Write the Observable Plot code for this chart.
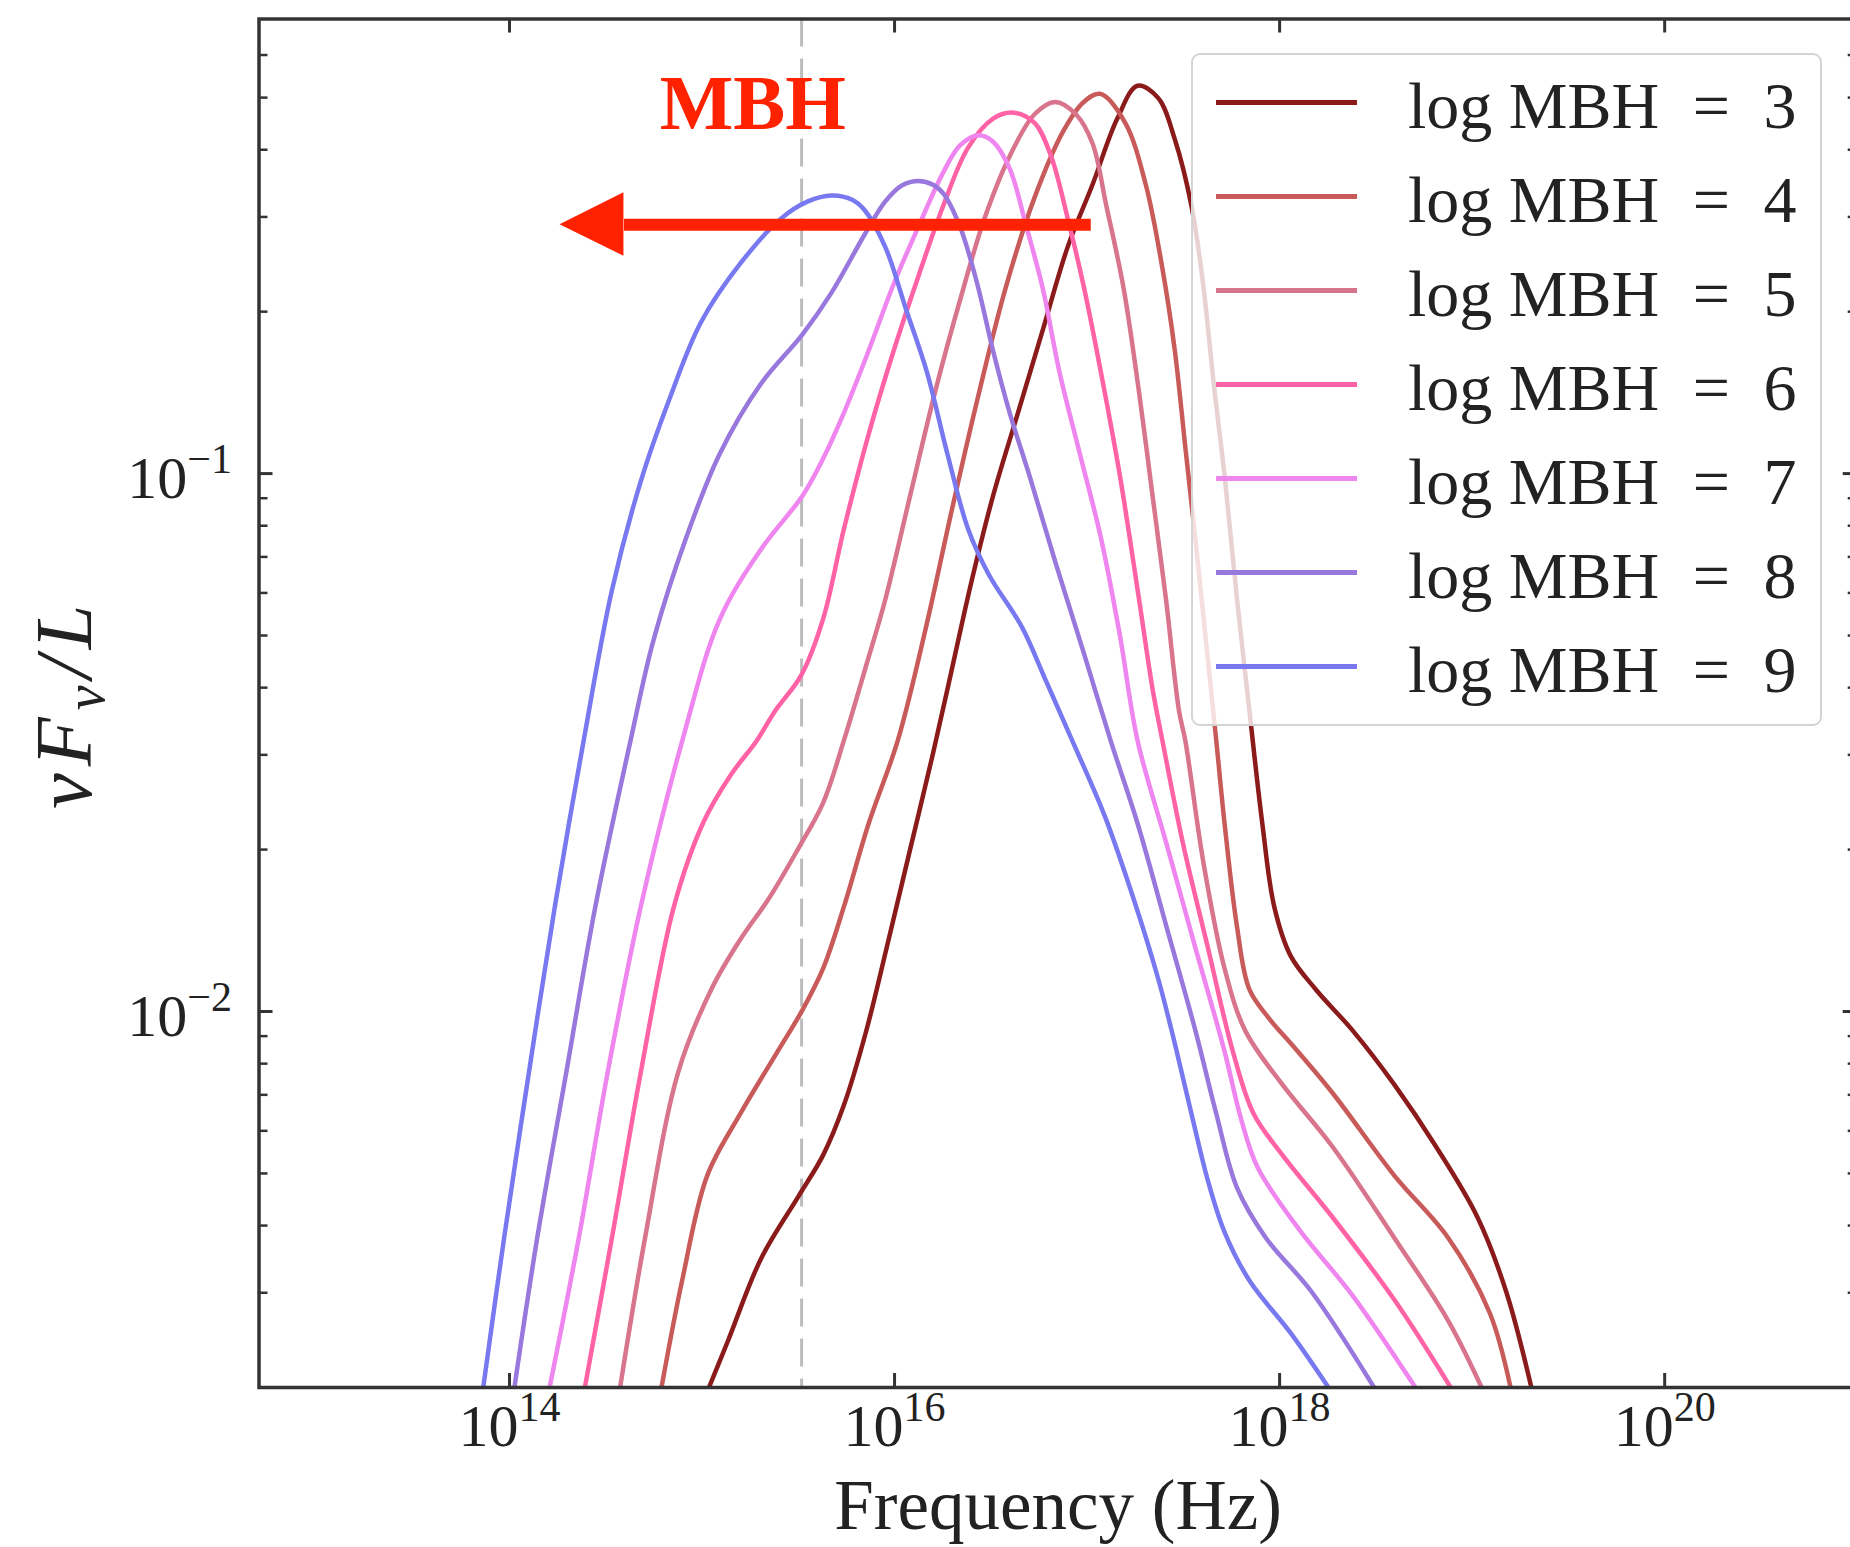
<!DOCTYPE html>
<html>
<head>
<meta charset="utf-8">
<script src="https://cdn.jsdelivr.net/npm/d3@7"></script>
<script src="https://cdn.jsdelivr.net/npm/@observablehq/plot@0.6"></script>
<style>
  html, body { margin: 0; padding: 0; background: #fff; }
  #wrap { position: relative; width: 1850px; height: 1547px; overflow: hidden; background: #fff; }
  #wrap svg { display: block; }
</style>
</head>
<body>
<div id="wrap"></div>
<script>
// ---------------- data (log10 frequency [Hz], log10 nuF_nu/L) ----------------
const seriesNames = ["log MBH = 3", "log MBH = 4", "log MBH = 5", "log MBH = 6", "log MBH = 7", "log MBH = 8", "log MBH = 9"];
const seriesColors = ["#8b1a1a", "#c95a5a", "#d8748c", "#ff62a5", "#ef85ef", "#9878dc", "#7878f0"];

const logMBH3 = [[15.037,-2.698],[15.134,-2.613],[15.307,-2.459],[15.50,-2.344],[15.629,-2.267],[15.737,-2.174],[15.85,-2.04],[15.96,-1.88],[16.08,-1.70],[16.20,-1.52],[16.30,-1.36],[16.40,-1.20],[16.512,-1.041],[16.641,-0.887],[16.770,-0.733],[16.899,-0.579],[17.028,-0.463],[17.157,-0.340],[17.262,-0.279],[17.370,-0.302],[17.456,-0.379],[17.542,-0.502],[17.60,-0.64],[17.66,-0.84],[17.714,-1.003],[17.779,-1.234],[17.843,-1.440],[17.91,-1.65],[17.972,-1.805],[18.058,-1.897],[18.188,-1.959],[18.381,-2.036],[18.596,-2.136],[18.812,-2.251],[19.027,-2.382],[19.177,-2.521],[19.307,-2.698]];
const logMBH4 = [[14.790,-2.698],[14.898,-2.498],[15.027,-2.305],[15.199,-2.190],[15.393,-2.074],[15.522,-1.997],[15.629,-1.920],[15.737,-1.805],[15.866,-1.650],[16.017,-1.496],[16.167,-1.28],[16.296,-1.07],[16.425,-0.87],[16.576,-0.656],[16.727,-0.487],[16.877,-0.363],[16.98,-0.31],[17.068,-0.294],[17.198,-0.348],[17.305,-0.463],[17.391,-0.618],[17.456,-0.772],[17.51,-0.95],[17.565,-1.13],[17.62,-1.32],[17.671,-1.496],[17.714,-1.65],[17.779,-1.843],[17.843,-1.959],[17.95,-2.015],[18.06,-2.06],[18.274,-2.151],[18.596,-2.305],[18.876,-2.421],[19.091,-2.560],[19.199,-2.698]];
const logMBH5 = [[14.575,-2.698],[14.704,-2.421],[14.876,-2.113],[15.048,-1.959],[15.199,-1.866],[15.349,-1.789],[15.500,-1.697],[15.629,-1.612],[15.737,-1.496],[15.85,-1.36],[15.952,-1.234],[16.081,-1.041],[16.210,-0.849],[16.339,-0.679],[16.468,-0.525],[16.598,-0.410],[16.727,-0.332],[16.834,-0.309],[16.942,-0.332],[17.028,-0.386],[17.10,-0.502],[17.19,-0.656],[17.27,-0.849],[17.34,-1.041],[17.41,-1.234],[17.477,-1.440],[17.510,-1.496],[17.606,-1.727],[17.714,-1.920],[17.822,-2.036],[18.015,-2.136],[18.274,-2.251],[18.596,-2.421],[18.876,-2.575],[19.048,-2.698]];
const logMBH6 = [[14.392,-2.698],[14.532,-2.421],[14.682,-2.113],[14.854,-1.805],[15.005,-1.650],[15.15,-1.56],[15.285,-1.496],[15.382,-1.440],[15.515,-1.375],[15.629,-1.27],[15.737,-1.103],[15.866,-0.926],[15.995,-0.772],[16.124,-0.633],[16.253,-0.502],[16.382,-0.394],[16.512,-0.340],[16.619,-0.329],[16.727,-0.348],[16.813,-0.410],[16.899,-0.525],[16.985,-0.656],[17.071,-0.810],[17.17,-1.003],[17.27,-1.234],[17.34,-1.40],[17.391,-1.496],[17.499,-1.689],[17.628,-1.882],[17.757,-2.074],[17.865,-2.190],[18.015,-2.267],[18.274,-2.382],[18.596,-2.536],[18.887,-2.698]];
const logMBH7 = [[14.209,-2.698],[14.360,-2.421],[14.510,-2.113],[14.682,-1.805],[14.898,-1.496],[15.091,-1.272],[15.306,-1.141],[15.522,-1.041],[15.629,-0.972],[15.737,-0.887],[15.866,-0.771],[15.995,-0.648],[16.124,-0.541],[16.253,-0.440],[16.34,-0.390],[16.436,-0.371],[16.512,-0.383],[16.598,-0.433],[16.684,-0.540],[16.770,-0.656],[16.856,-0.810],[16.963,-0.964],[17.071,-1.118],[17.17,-1.30],[17.262,-1.496],[17.413,-1.689],[17.563,-1.882],[17.714,-2.074],[17.80,-2.20],[17.886,-2.29],[18.101,-2.405],[18.381,-2.529],[18.704,-2.698]];
const logMBH8 = [[14.026,-2.698],[14.144,-2.421],[14.295,-2.113],[14.446,-1.805],[14.629,-1.496],[14.747,-1.311],[14.919,-1.118],[15.091,-0.964],[15.306,-0.833],[15.522,-0.741],[15.672,-0.664],[15.844,-0.556],[15.952,-0.494],[16.04,-0.464],[16.124,-0.456],[16.20,-0.463],[16.253,-0.479],[16.339,-0.540],[16.425,-0.641],[16.512,-0.772],[16.598,-0.887],[16.70,-1.003],[16.84,-1.17],[16.98,-1.33],[17.122,-1.496],[17.262,-1.650],[17.413,-1.843],[17.563,-2.036],[17.671,-2.190],[17.779,-2.328],[17.929,-2.421],[18.166,-2.521],[18.489,-2.698]];
const logMBH9 = [[13.864,-2.698],[13.972,-2.421],[14.101,-2.113],[14.236,-1.804],[14.376,-1.515],[14.532,-1.217],[14.683,-1.013],[14.828,-0.864],[14.994,-0.719],[15.202,-0.608],[15.410,-0.526],[15.55,-0.494],[15.672,-0.483],[15.78,-0.491],[15.844,-0.510],[15.952,-0.579],[16.060,-0.695],[16.167,-0.810],[16.275,-0.964],[16.382,-1.103],[16.490,-1.188],[16.661,-1.285],[16.786,-1.385],[16.915,-1.49],[17.090,-1.635],[17.241,-1.79],[17.370,-1.94],[17.456,-2.06],[17.542,-2.19],[17.628,-2.315],[17.714,-2.41],[17.843,-2.50],[18.058,-2.598],[18.252,-2.698]];

const xDomain = [5e12, 1e21];
const yDomain = [2e-3, 0.7];
const xMajorTicks = [1e14, 1e16, 1e18, 1e20];
const xTickLabels = ["10^14", "10^16", "10^18", "10^20"];
const yMajorTicks = [0.01, 0.1];
const yTickLabels = ["10^\u22122", "10^\u22121"];
const yMinorTicks = [0.003, 0.004, 0.005, 0.006, 0.007, 0.008, 0.009, 0.02, 0.03, 0.04, 0.05, 0.06, 0.07, 0.08, 0.09, 0.2, 0.3, 0.4, 0.5, 0.6];
const ionEdge = [3.29e15];
const arrowTail = [1.045e17, 0.29];
const arrowHeadBase = [3.93e14, 0.2536, 0.3327];
const arrowTip = [1.83e14, 0.29];
const mbhLabel = [{x: 1.837e15, y: 0.487, text: "MBH"}];
const xLabel = "Frequency (Hz)";
const yLabel = "\u03bdF_\u03bd/L";

// ---------------- build ----------------
const seriesData = [logMBH3, logMBH4, logMBH5, logMBH6, logMBH7, logMBH8, logMBH9];
const rows = seriesData.flatMap((pts, i) => pts.map(([lx, ly]) => ({series: seriesNames[i], nu: Math.pow(10, lx), f: Math.pow(10, ly)})));

const W = 1850, H = 1547;
const mL = 258.5, mR = -6.7, mT = 18.5, mB = H - 1387;
const innerW = W - mL - mR, innerH = H - mT - mB;
const axisCol = "#333";
const textCol = "#222";
const red = "#ff2200";
const serif = "Liberation Serif, DejaVu Serif, serif";
const tickFont = 60;

const chart = Plot.plot({
  width: W, height: H,
  marginLeft: mL, marginRight: mR, marginTop: mT, marginBottom: mB,
  style: {background: "#fff", color: textCol},
  x: {type: "log", domain: xDomain, axis: null},
  y: {type: "log", domain: yDomain, axis: null},
  color: {domain: seriesNames, range: seriesColors},
  marks: [
    Plot.ruleX(ionEdge, {stroke: "#bdbdbd", strokeWidth: 3, strokeDasharray: "28,12"}),
    Plot.line(rows, {x: "nu", y: "f", z: "series", stroke: "series", strokeWidth: 4.5, curve: "catmull-rom", clip: true}),
    Plot.link([arrowTail], {x1: d => d[0], x2: () => arrowHeadBase[0], y1: d => d[1], y2: d => d[1], stroke: red, strokeWidth: 12}),
    Plot.areaY([{x: arrowTip[0], y1: arrowTip[1], y2: arrowTip[1]}, {x: arrowHeadBase[0], y1: arrowHeadBase[1], y2: arrowHeadBase[2]}], {x: "x", y1: "y1", y2: "y2", fill: red}),
    Plot.text(mbhLabel, {x: "x", y: "y", text: "text", fontSize: 78, fontWeight: "bold", fontFamily: serif, fill: red}),
    // ticks (inward, all four sides)
    Plot.ruleX(xMajorTicks, {stroke: axisCol, strokeWidth: 3, insetTop: innerH - 14}),
    Plot.ruleX(xMajorTicks, {stroke: axisCol, strokeWidth: 3, insetBottom: innerH - 14}),
    Plot.ruleY(yMajorTicks, {stroke: axisCol, strokeWidth: 3, insetRight: innerW - 14}),
    Plot.ruleY(yMinorTicks, {stroke: axisCol, strokeWidth: 2.5, insetRight: innerW - 9}),
    Plot.ruleY(yMajorTicks, {stroke: axisCol, strokeWidth: 3, insetLeft: innerW - 14}),
    Plot.ruleY(yMinorTicks, {stroke: axisCol, strokeWidth: 2.5, insetLeft: innerW - 9}),
    Plot.frame({stroke: axisCol, strokeWidth: 3.5}),
    // tick labels & axis labels
    Plot.axisX(xMajorTicks, {anchor: "bottom", tickSize: 0, tickPadding: 16, tickFormat: d => xTickLabels[xMajorTicks.indexOf(d)], fontSize: tickFont, fontFamily: serif, fill: textCol, label: null}),
    Plot.axisY(yMajorTicks, {anchor: "left", tickSize: 0, tickPadding: 27, dy: 5, tickFormat: d => yTickLabels[yMajorTicks.indexOf(d)], fontSize: tickFont, fontFamily: serif, fill: textCol, label: null}),
    Plot.axisX([], {anchor: "bottom", tickSize: 0, label: xLabel, labelAnchor: "center", labelArrow: "none", labelOffset: 141, fontSize: 71, fontFamily: serif, fill: textCol}),
    Plot.axisY([], {anchor: "left", tickSize: 0, label: yLabel, labelAnchor: "center", labelArrow: "none", labelOffset: 225, fontSize: 80, fontFamily: serif, fill: textCol})
  ]
});

// superscripts / subscripts as real text
const NS = "http://www.w3.org/2000/svg";
function tspan(txt, attrs) {
  const t = document.createElementNS(NS, "tspan");
  t.textContent = txt;
  for (const k in attrs) t.setAttribute(k, attrs[k]);
  return t;
}
chart.querySelectorAll("text").forEach(t => {
  const s = t.textContent;
  if (s.includes("^")) {
    const [b, e] = s.split("^");
    t.textContent = "";
    t.append(tspan(b, {}), tspan(e, {"font-size": tickFont * 0.7, dy: -25}));
  } else if (s.includes("_")) {
    const m = s.match(/^(.*)_(.)(.*)$/);
    t.textContent = "";
    t.setAttribute("font-style", "italic");
    t.setAttribute("letter-spacing", "7");
    t.append(tspan(m[1], {}), tspan(m[2], {"font-size": 56, dy: 13}), tspan(m[3], {dy: -13}));
  }
});

const wrap = document.getElementById("wrap");
wrap.appendChild(chart);

// legend (inside the axes, upper right)
const legend = document.createElement("div");
legend.style.cssText = "position:absolute;left:1191px;top:53px;width:631px;height:673px;box-sizing:border-box;border:2px solid #d4d4d4;border-radius:9px;background:rgba(255,255,255,0.8);";
seriesNames.forEach((name, i) => {
  const rowY = 102.7 + i * 93.9;
  const sw = document.createElement("div");
  sw.style.cssText = `position:absolute;left:22.6px;top:${rowY - 2.5 - 55}px;width:141px;height:5px;background:${seriesColors[i]};`;
  const tx = document.createElement("div");
  tx.style.cssText = `position:absolute;left:215px;top:${rowY - 29.6 - 55}px;font:66px/66px 'Liberation Serif','DejaVu Serif',serif;color:${textCol};white-space:pre;`;
  const parts = name.split(" = ");
  const a = document.createElement("span"); a.textContent = parts[0];
  const eq = document.createElement("span"); eq.textContent = " = "; eq.style.wordSpacing = "17px";
  const b = document.createElement("span"); b.textContent = parts[1];
  tx.append(a, eq, b);
  legend.append(sw, tx);
});
wrap.appendChild(legend);
</script>
</body>
</html>
